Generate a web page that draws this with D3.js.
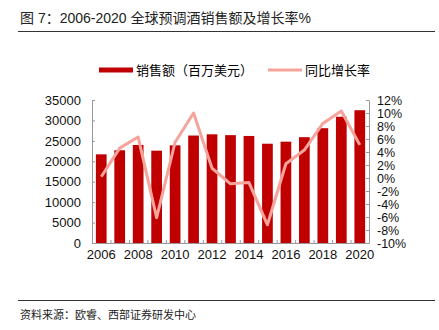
<!DOCTYPE html>
<html>
<head>
<meta charset="utf-8">
<script src="https://cdn.jsdelivr.net/npm/d3@7/dist/d3.min.js"></script>
<style>
body { margin: 0; background: #fff; }
text { font-family: "Liberation Sans", Arial, "Noto Sans CJK SC", sans-serif; }
.cjk { font-family: "Noto Sans CJK SC", sans-serif; }
</style>
</head>
<body>
<script>
var WIDTH = 439,
    HEIGHT = 330;

var years = [2006, 2007, 2008, 2009, 2010, 2011, 2012, 2013, 2014, 2015, 2016, 2017, 2018, 2019, 2020];
var sales = [21700, 22700, 24000, 22600, 23900, 26300, 26600, 26400, 26200, 24300, 24800, 25900, 28100, 30900, 32500];
var growth = [0.2, 4.6, 6.3, -6.1, 5.5, 10.0, 1.5, -0.9, -0.7, -7.2, 2.2, 4.3, 8.4, 10.3, 5.1];
var leftTicks = [0, 5000, 10000, 15000, 20000, 25000, 30000, 35000];
var rightTicks = [-10, -8, -6, -4, -2, 0, 2, 4, 6, 8, 10, 12];

var BAR = '#c00000',
    LINE = '#f6a39b',
    AXIS = '#999';

var svg = d3.select('body').append('svg')
    .attr('width', WIDTH)
    .attr('height', HEIGHT);

var plotL = 92, plotR = 369, plotT = 100, plotB = 243;

var x = d3.scaleBand()
    .domain(years)
    .range([plotL, plotR])
    .paddingInner(0.42)
    .paddingOuter(0.21);

var xEdge = d3.scaleLinear()
    .domain([0, years.length])
    .range([plotL, plotR]);

var y = d3.scaleLinear().domain([0, 35000]).range([plotB, plotT]);
var y2 = d3.scaleLinear().domain([-10, 12]).range([plotB, plotT]);

// title
svg.append('text')
    .attr('x', 20).attr('y', 23)
    .attr('font-size', 14)
    .attr('fill', '#222')
    .text('图 7：2006-2020 全球预调酒销售额及增长率%');

svg.append('line')
    .attr('x1', 18).attr('x2', 435)
    .attr('y1', 31.5).attr('y2', 31.5)
    .attr('stroke', '#333').attr('stroke-width', 1);

// legend
svg.append('rect')
    .attr('x', 99).attr('y', 67.5)
    .attr('width', 34).attr('height', 5)
    .attr('fill', BAR);
svg.append('text')
    .attr('class', 'cjk')
    .attr('x', 136).attr('y', 74.5)
    .attr('font-size', 13)
    .text('销售额（百万美元）');

svg.append('line')
    .attr('x1', 268).attr('x2', 302)
    .attr('y1', 70).attr('y2', 70)
    .attr('stroke', LINE).attr('stroke-width', 3);
svg.append('text')
    .attr('class', 'cjk')
    .attr('x', 305).attr('y', 74.5)
    .attr('font-size', 13)
    .text('同比增长率');

// bars
svg.append('g').selectAll('rect')
    .data(sales)
    .enter()
    .append('rect')
    .attr('x', (d, i) => x(years[i]))
    .attr('y', d => y(d))
    .attr('width', x.bandwidth())
    .attr('height', d => y(0) - y(d))
    .attr('fill', BAR);

// axes
var gl = svg.append('g')
    .attr('transform', 'translate(' + plotL + ',0)')
    .call(d3.axisLeft(y).tickValues(leftTicks).tickSize(-3).tickSizeOuter(0).tickPadding(11)
        .tickFormat(d3.format('d')));

var gr = svg.append('g')
    .attr('transform', 'translate(' + plotR + ',0)')
    .call(d3.axisRight(y2).tickValues(rightTicks).tickSize(-3).tickSizeOuter(0).tickPadding(8)
        .tickFormat(d => d + '%'));

var gb = svg.append('g')
    .attr('transform', 'translate(0,' + plotB + ')')
    .call(d3.axisBottom(xEdge).tickValues(d3.range(years.length + 1)).tickSize(-3).tickSizeOuter(0)
        .tickFormat(''));

var gx = svg.append('g')
    .attr('transform', 'translate(0,' + plotB + ')')
    .call(d3.axisBottom(x).tickValues(years.filter(d => d % 2 === 0)).tickSize(0).tickPadding(7));
gx.select('.domain').remove();

[gl, gr, gb].forEach(function(g) {
    g.selectAll('.domain, line').attr('stroke', AXIS);
});
[gl, gr, gx].forEach(function(g) {
    g.selectAll('text')
        .attr('font-size', 13)
        .attr('fill', '#111')
        .style('font-family', '"Liberation Sans", Arial, sans-serif');
});
gr.selectAll('text').attr('font-size', 12.5);

// growth line
var line = d3.line()
    .x((d, i) => x(years[i]) + x.bandwidth() / 2)
    .y(d => y2(d));

svg.append('path')
    .datum(growth)
    .attr('d', line)
    .attr('fill', 'none')
    .attr('stroke', LINE)
    .attr('stroke-width', 3)
    .attr('stroke-linejoin', 'round');

// footer
svg.append('line')
    .attr('x1', 18).attr('x2', 435)
    .attr('y1', 300.5).attr('y2', 300.5)
    .attr('stroke', '#333').attr('stroke-width', 1);

svg.append('text')
    .attr('class', 'cjk')
    .attr('x', 20).attr('y', 319)
    .attr('font-size', 11)
    .attr('fill', '#222')
    .text('资料来源：欧睿、西部证券研发中心');
</script>
</body>
</html>
